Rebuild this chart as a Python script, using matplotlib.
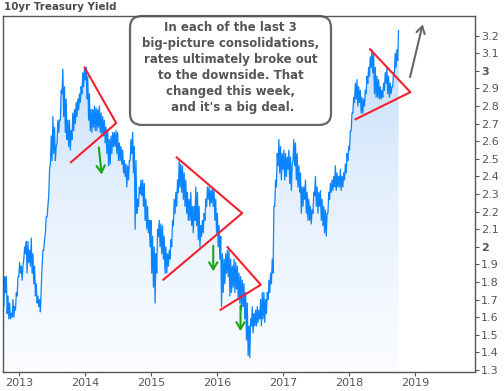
import numpy as np
import matplotlib
matplotlib.use("Agg")
import matplotlib.pyplot as plt
from matplotlib.colors import LinearSegmentedColormap
from matplotlib.patches import FancyBboxPatch, Polygon

# ---------------- data ----------------
title = "10yr Treasury Yield"
start_year = 2012.763
end_year = 2018.745
# short-period highs / lows of the 10yr yield (chronological)
highs = [
    1.83, 1.83, 1.72, 1.68, 1.62, 1.70, 1.66, 1.74, 1.83, 1.91, 1.89, 1.89, 2.00, 2.03, 2.03, 1.98,
    2.05, 1.96, 1.89, 1.79, 1.72, 1.70, 1.77, 1.98, 2.04, 2.17, 2.23, 2.44, 2.63, 2.74, 2.68, 2.57,
    2.72, 2.72, 2.89, 3.01, 2.91, 2.84, 2.72, 2.72, 2.66, 2.76, 2.78, 2.82, 2.84, 2.87, 2.91, 2.99,
    3.01, 3.02, 2.97, 2.87, 2.78, 2.78, 2.80, 2.79, 2.78, 2.80, 2.76, 2.74, 2.72, 2.68, 2.66, 2.61,
    2.63, 2.65, 2.65, 2.66, 2.65, 2.59, 2.57, 2.55, 2.49, 2.47, 2.46, 2.49, 2.61, 2.65, 2.57, 2.49,
    2.27, 2.34, 2.38, 2.38, 2.36, 2.27, 2.23, 2.15, 2.15, 2.06, 2.00, 1.96, 2.10, 2.15, 2.13, 2.12,
    2.06, 2.00, 1.96, 1.98, 2.04, 2.15, 2.27, 2.31, 2.38, 2.49, 2.47, 2.46, 2.42, 2.38, 2.31, 2.27,
    2.31, 2.23, 2.23, 2.34, 2.31, 2.23, 2.12, 2.15, 2.19, 2.27, 2.34, 2.34, 2.32, 2.34, 2.32, 2.27,
    2.19, 2.12, 2.06, 1.96, 1.93, 1.96, 1.98, 1.98, 1.93, 1.89, 1.93, 1.91, 1.89, 1.85, 1.83, 1.81,
    1.79, 1.74, 1.68, 1.55, 1.59, 1.66, 1.62, 1.64, 1.66, 1.64, 1.70, 1.74, 1.74, 1.70, 1.74, 1.81,
    1.85, 1.93, 2.23, 2.38, 2.53, 2.61, 2.57, 2.53, 2.55, 2.53, 2.51, 2.55, 2.51, 2.47, 2.61, 2.59,
    2.53, 2.46, 2.42, 2.34, 2.34, 2.38, 2.31, 2.27, 2.23, 2.21, 2.31, 2.40, 2.34, 2.31, 2.32, 2.27,
    2.23, 2.21, 2.19, 2.31, 2.36, 2.38, 2.40, 2.46, 2.42, 2.40, 2.44, 2.40, 2.42, 2.47, 2.53, 2.57,
    2.66, 2.76, 2.85, 2.93, 2.95, 2.91, 2.89, 2.85, 2.84, 2.89, 2.97, 3.02, 3.08, 3.12, 3.10, 3.02,
    2.97, 2.95, 2.91, 2.89, 2.93, 2.99, 3.02, 2.97, 2.93, 2.91, 2.99, 3.10, 3.12, 3.23,
]
lows = [
    1.66, 1.74, 1.62, 1.59, 1.59, 1.60, 1.60, 1.64, 1.72, 1.83, 1.85, 1.81, 1.93, 1.96, 1.85, 1.91,
    1.89, 1.85, 1.79, 1.72, 1.68, 1.66, 1.63, 1.89, 1.98, 2.08, 2.17, 2.29, 2.47, 2.49, 2.53, 2.49,
    2.59, 2.65, 2.72, 2.87, 2.74, 2.65, 2.61, 2.57, 2.55, 2.61, 2.66, 2.70, 2.74, 2.78, 2.82, 2.87,
    2.91, 2.95, 2.84, 2.72, 2.66, 2.65, 2.68, 2.66, 2.66, 2.68, 2.65, 2.63, 2.63, 2.59, 2.53, 2.46,
    2.47, 2.53, 2.57, 2.57, 2.53, 2.49, 2.49, 2.47, 2.42, 2.40, 2.34, 2.38, 2.49, 2.53, 2.42, 2.10,
    2.19, 2.23, 2.30, 2.29, 2.23, 2.15, 2.10, 2.08, 2.00, 1.85, 1.77, 1.68, 1.85, 2.06, 2.00, 1.96,
    1.93, 1.85, 1.85, 1.89, 1.93, 2.00, 2.12, 2.19, 2.23, 2.31, 2.34, 2.31, 2.27, 2.23, 2.19, 2.15,
    2.15, 2.12, 2.08, 2.15, 2.12, 2.04, 2.00, 2.06, 2.08, 2.15, 2.23, 2.27, 2.23, 2.25, 2.23, 2.15,
    2.08, 2.00, 1.93, 1.66, 1.74, 1.79, 1.85, 1.83, 1.72, 1.74, 1.77, 1.74, 1.76, 1.70, 1.68, 1.64,
    1.66, 1.59, 1.47, 1.38, 1.37, 1.55, 1.51, 1.55, 1.55, 1.57, 1.59, 1.55, 1.59, 1.57, 1.62, 1.70,
    1.74, 1.79, 1.85, 2.23, 2.34, 2.46, 2.42, 2.38, 2.44, 2.38, 2.40, 2.44, 2.36, 2.32, 2.49, 2.46,
    2.38, 2.34, 2.31, 2.19, 2.23, 2.27, 2.19, 2.15, 2.15, 2.13, 2.19, 2.29, 2.23, 2.19, 2.23, 2.15,
    2.12, 2.08, 2.06, 2.19, 2.27, 2.31, 2.32, 2.34, 2.32, 2.34, 2.34, 2.32, 2.34, 2.38, 2.42, 2.49,
    2.55, 2.66, 2.76, 2.82, 2.84, 2.80, 2.82, 2.76, 2.76, 2.80, 2.87, 2.93, 2.97, 3.02, 2.99, 2.87,
    2.85, 2.85, 2.84, 2.84, 2.85, 2.89, 2.93, 2.87, 2.85, 2.87, 2.91, 2.99, 3.02, 3.06,
]
yields = [v for pair in zip(lows, highs) for v in pair]
dates = np.linspace(start_year, end_year, len(yields))

x_ticks = [2013, 2014, 2015, 2016, 2017, 2018, 2019]
y_ticks = [1.3, 1.4, 1.5, 1.6, 1.7, 1.8, 1.9, 2.0, 2.1, 2.2, 2.3, 2.4, 2.5, 2.6, 2.7, 2.8, 2.9, 3.0, 3.1, 3.2]
y_labels = ["1.3", "1.4", "1.5", "1.6", "1.7", "1.8", "1.9", "2", "2.1", "2.2", "2.3", "2.4",
            "2.5", "2.6", "2.7", "2.8", "2.9", "3", "3.1", "3.2"]

# triangles: (lower-left start, apex, upper-left start)
triangles = [
    [(2013.781, 2.481), (2014.466, 2.703), (2013.987, 3.019)],
    [(2015.181, 1.813), (2016.375, 2.191), (2015.383, 2.508)],
    [(2016.048, 1.642), (2016.657, 1.784), (2016.154, 1.998)],
    [(2018.093, 2.725), (2018.924, 2.879), (2018.315, 3.123)],
]
down_arrows = [
    [(2014.199, 2.580), (2014.249, 2.395)],
    [(2015.937, 2.021), (2015.937, 1.845)],
    [(2016.350, 1.680), (2016.350, 1.505)],
]
up_arrow = [(2018.909, 2.949), (2019.121, 3.280)]

note = ("In each of the last 3\nbig-picture consolidations,\nrates ultimately broke out\n"
        "to the downside. That\nchanged this week,\n and it's a big deal.")

# ---------------- plot ----------------
grey = "#555555"
plt.rcParams['font.family'] = ['DejaVu Sans']
fig = plt.figure(figsize=(5.04, 3.91), dpi=100)
ax = fig.add_axes([0.0066, 0.0486, 0.936, 0.9104])

xmin, xmax = 2012.755, 2019.905
ymin, ymax = 1.288, 3.312

# gradient fill under the curve
cmap = LinearSegmentedColormap.from_list("g", ["#fbfdff", "#e6f1fd", "#c3ddf8"])
grad = np.linspace(0, 1, 256).reshape(-1, 1)
im = ax.imshow(grad, extent=[dates[0], dates[-1], ymin, max(yields)], origin="lower",
               aspect="auto", cmap=cmap, zorder=1)
poly_pts = np.column_stack([np.r_[dates[0], dates, dates[-1]], np.r_[ymin, yields, ymin]])
clip = Polygon(poly_pts, closed=True, transform=ax.transData, facecolor="none", edgecolor="none")
ax.add_patch(clip)
im.set_clip_path(clip)
ax.set_xlim(xmin, xmax)
ax.set_ylim(ymin, ymax)

ax.plot(dates, yields, color="#0a84ff", lw=0.9, zorder=3)

# triangles
red = "#f5202f"
for a, apex, b in triangles:
    ax.plot([a[0], apex[0], b[0]], [a[1], apex[1], b[1]], color=red, lw=1.5, zorder=4)

# arrows
for (x0, y0), (x1, y1) in down_arrows:
    ax.annotate("", xy=(x1, y1), xytext=(x0, y0),
                arrowprops=dict(arrowstyle="->,head_length=0.5,head_width=0.3", color="#1aa51a", lw=1.5),
                zorder=5)
ax.annotate("", xy=up_arrow[1], xytext=up_arrow[0],
            arrowprops=dict(arrowstyle="->,head_length=0.5,head_width=0.3", color="#666666", lw=1.5),
            zorder=5)

# note box
box = FancyBboxPatch((0.2686, 0.694), 0.426, 0.306, boxstyle="round,pad=0,rounding_size=0.025",
                     transform=ax.transAxes, facecolor="white", edgecolor="#666666", lw=1.6,
                     zorder=6, clip_on=False, mutation_aspect=1.3)
ax.add_patch(box)
ax.text(0.4817, 0.855, note, transform=ax.transAxes, ha="center", va="center",
        fontsize=8.5, fontweight="bold", color=grey, linespacing=1.3, zorder=7)

# axes styling
for s in ax.spines.values():
    s.set_color(grey)
    s.set_linewidth(1)
    s.set_zorder(8)
ax.yaxis.tick_right()
ax.set_yticks(y_ticks)
ax.set_yticklabels(y_labels)
ax.set_xticks(x_ticks)
ax.set_xticklabels([str(x) for x in x_ticks])
ax.tick_params(axis="both", colors=grey, labelcolor=grey, labelsize=8, length=3, width=0.8, pad=1.5)
for lab in ax.get_yticklabels():
    if lab.get_text() in ("2", "3"):
        lab.set_fontweight("bold")

fig.text(0.008, 0.982, title, ha="left", va="center", fontsize=7.4, fontweight="bold", color="#4a4a4a")

fig.savefig("out.png", dpi=100)
